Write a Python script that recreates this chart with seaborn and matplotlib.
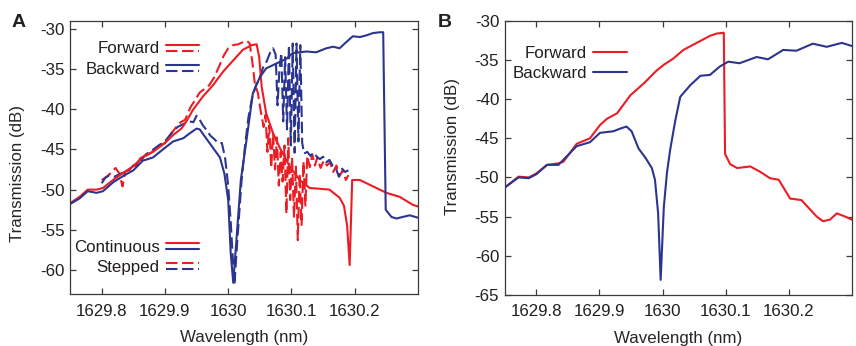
import numpy as np
import pandas as pd
import matplotlib
matplotlib.use("Agg")
import matplotlib.pyplot as plt
import seaborn as sns
from matplotlib.legend_handler import HandlerBase
from matplotlib.lines import Line2D

# ---------------- data: panel A ----------------
fc_x = [1629.750, 1629.765, 1629.778, 1629.792, 1629.802, 1629.818, 1629.834, 1629.850,
        1629.865, 1629.881, 1629.900, 1629.913, 1629.926, 1629.934, 1629.944, 1629.960,
        1629.976, 1629.992, 1630.008, 1630.023, 1630.037, 1630.045, 1630.049, 1630.053,
        1630.060, 1630.071, 1630.081, 1630.097, 1630.113, 1630.129, 1630.145, 1630.160,
        1630.176, 1630.183, 1630.188, 1630.192, 1630.196, 1630.208, 1630.229, 1630.250,
        1630.271, 1630.292, 1630.300]
fc_y = [-51.7, -50.9, -50.0, -50.0, -49.8, -48.8, -47.9, -47.1, -45.9, -45.3, -44.2, -43.2,
        -42.4, -41.5, -40.1, -38.4, -37.0, -35.3, -33.9, -32.6, -32.0, -31.9, -33.5, -37.2,
        -40.5, -43.0, -44.7, -47.1, -48.8, -49.8, -49.9, -50.0, -51.0, -52.0, -54.5, -59.4,
        -48.8, -48.8, -49.6, -50.4, -50.9, -51.9, -52.1]

bc_x = [1629.750, 1629.765, 1629.778, 1629.792, 1629.802, 1629.818, 1629.834, 1629.850,
        1629.865, 1629.881, 1629.900, 1629.913, 1629.929, 1629.939, 1629.950, 1629.955,
        1629.965, 1629.976, 1629.987, 1629.994, 1630.000, 1630.004, 1630.008, 1630.013,
        1630.020, 1630.029, 1630.039, 1630.050, 1630.060, 1630.076, 1630.092, 1630.102,
        1630.113, 1630.124, 1630.139, 1630.155, 1630.166, 1630.176, 1630.187, 1630.197,
        1630.208, 1630.218, 1630.229, 1630.240, 1630.245, 1630.249, 1630.258, 1630.266,
        1630.276, 1630.287, 1630.300]
bc_y = [-51.8, -51.1, -50.2, -50.4, -50.2, -49.1, -48.3, -47.6, -46.4, -46.0, -44.8, -44.0,
        -43.6, -43.0, -42.4, -42.5, -43.6, -44.8, -46.0, -48.0, -51.3, -57.9, -61.6, -56.3,
        -48.8, -43.8, -38.0, -36.0, -34.9, -34.3, -33.7, -33.0, -32.9, -32.8, -32.9, -32.4,
        -32.2, -32.4, -31.6, -30.9, -31.0, -30.8, -30.5, -30.4, -30.4, -52.5, -53.4, -53.6,
        -53.4, -53.2, -53.5]

sf_x = [1629.800, 1629.808, 1629.815, 1629.822, 1629.828, 1629.833, 1629.837, 1629.845,
        1629.855, 1629.862, 1629.870, 1629.880, 1629.890, 1629.900, 1629.910, 1629.918,
        1629.925, 1629.932, 1629.940, 1629.948, 1629.955, 1629.962, 1629.970, 1629.978,
        1629.986, 1629.993, 1630.000, 1630.008, 1630.016, 1630.024, 1630.030, 1630.034,
        1630.038, 1630.042, 1630.047, 1630.052, 1630.056, 1630.059, 1630.062, 1630.065,
        1630.068, 1630.071, 1630.074, 1630.077, 1630.080, 1630.083, 1630.086, 1630.089,
        1630.092, 1630.095, 1630.098, 1630.101, 1630.104, 1630.107, 1630.110, 1630.113,
        1630.116, 1630.119, 1630.122, 1630.125, 1630.129, 1630.133, 1630.137, 1630.141,
        1630.146, 1630.151, 1630.156, 1630.161, 1630.166, 1630.171, 1630.176, 1630.181,
        1630.186, 1630.190]
sf_y = [-48.8, -48.4, -47.9, -47.3, -48.0, -49.6, -47.8, -47.5, -47.0, -46.0, -45.8, -45.3,
        -44.6, -44.2, -43.0, -42.2, -41.6, -41.3, -39.8, -38.8, -37.9, -37.5, -37.0, -36.0,
        -34.6, -33.3, -32.4, -32.0, -31.9, -31.6, -31.5, -31.8, -34.0, -36.7, -38.0, -40.5,
        -42.2, -40.7, -45.3, -42.0, -47.3, -43.0, -47.5, -43.5, -49.5, -45.3, -49.0, -44.5,
        -53.0, -43.6, -51.3, -46.0, -53.5, -47.0, -56.3, -48.0, -54.4, -46.5, -52.0, -45.8,
        -47.2, -45.6, -47.0, -46.0, -47.3, -46.4, -47.0, -46.6, -47.8, -47.0, -48.3, -47.6,
        -48.8, -48.2]

sb_x = [1629.800, 1629.806, 1629.812, 1629.820, 1629.830, 1629.840, 1629.850, 1629.860,
        1629.870, 1629.880, 1629.890, 1629.900, 1629.910, 1629.920, 1629.930, 1629.938,
        1629.945, 1629.950, 1629.955, 1629.960, 1629.966, 1629.972, 1629.978, 1629.984,
        1629.990, 1629.995, 1630.000, 1630.004, 1630.008, 1630.010, 1630.013, 1630.017,
        1630.021, 1630.026, 1630.032, 1630.038, 1630.044, 1630.049, 1630.055, 1630.061,
        1630.066, 1630.071, 1630.075, 1630.078, 1630.081, 1630.084, 1630.087, 1630.090,
        1630.093, 1630.096, 1630.099, 1630.102, 1630.105, 1630.108, 1630.111, 1630.114,
        1630.117, 1630.120, 1630.125, 1630.130, 1630.135, 1630.140, 1630.145, 1630.150,
        1630.155, 1630.160, 1630.165, 1630.170, 1630.175, 1630.180, 1630.185, 1630.190]
sb_y = [-49.2, -48.5, -48.2, -48.4, -48.0, -47.8, -47.0, -46.6, -45.6, -45.1, -44.5, -44.0,
        -43.0, -42.2, -41.8, -41.5, -41.6, -40.8, -41.3, -42.0, -42.6, -43.3, -43.7, -44.2,
        -44.2, -46.0, -49.5, -54.0, -59.5, -61.8, -58.0, -53.5, -49.0, -45.0, -41.0, -38.5,
        -37.0, -36.3, -34.8, -34.0, -33.0, -32.4, -33.2, -39.5, -35.0, -33.0, -41.5, -33.5,
        -42.5, -32.0, -44.5, -31.8, -45.4, -31.8, -44.0, -32.0, -44.2, -45.5, -45.3, -45.8,
        -45.4, -45.9, -46.2, -45.9, -46.6, -46.3, -47.0, -47.3, -48.4, -47.4, -47.8, -47.6]

# ---------------- data: panel B ----------------
bf_x = [1629.750, 1629.772, 1629.788, 1629.800, 1629.817, 1629.835, 1629.843, 1629.864,
        1629.885, 1629.901, 1629.912, 1629.928, 1629.949, 1629.970, 1629.991, 1630.002,
        1630.017, 1630.033, 1630.054, 1630.075, 1630.086, 1630.097, 1630.099, 1630.107,
        1630.118, 1630.139, 1630.155, 1630.170, 1630.184, 1630.202, 1630.220, 1630.244,
        1630.254, 1630.265, 1630.276, 1630.289, 1630.300]
bf_y = [-51.3, -49.9, -50.0, -49.5, -48.4, -48.2, -48.0, -45.7, -45.0, -43.3, -42.5, -41.8,
        -39.5, -38.0, -36.3, -35.6, -34.8, -33.7, -32.8, -31.9, -31.6, -31.5, -47.0, -48.3,
        -48.8, -48.6, -49.3, -50.1, -50.3, -52.7, -52.9, -55.0, -55.6, -55.4, -54.6, -55.0,
        -55.4]

bb_x = [1629.750, 1629.772, 1629.788, 1629.800, 1629.817, 1629.835, 1629.864, 1629.885,
        1629.901, 1629.922, 1629.935, 1629.943, 1629.951, 1629.962, 1629.973, 1629.983,
        1629.988, 1629.993, 1629.997, 1630.002, 1630.007, 1630.012, 1630.020, 1630.028,
        1630.044, 1630.060, 1630.075, 1630.091, 1630.104, 1630.122, 1630.149, 1630.167,
        1630.191, 1630.212, 1630.238, 1630.260, 1630.284, 1630.300]
bb_y = [-51.3, -50.0, -50.1, -49.6, -48.4, -48.4, -46.0, -45.5, -44.3, -44.1, -43.7, -43.5,
        -44.1, -46.3, -47.5, -48.8, -50.3, -54.6, -63.1, -53.8, -49.4, -46.5, -42.8, -39.7,
        -38.2, -37.0, -36.9, -35.8, -35.2, -35.4, -34.6, -34.9, -33.7, -33.8, -32.9, -33.3,
        -32.8, -33.2]

x_ticks = [1629.8, 1629.9, 1630.0, 1630.1, 1630.2]
x_ticklabels = ["1629.8", "1629.9", "1630", "1630.1", "1630.2"]
yA_ticks = [-30, -35, -40, -45, -50, -55, -60]
yB_ticks = [-30, -35, -40, -45, -50, -55, -60, -65]

RED = "#ec1c24"
BLUE = "#2b3590"
TXT = "#231f20"
FS = 12.2

sns.set_style("ticks")
plt.rcParams["font.family"] = ["Liberation Sans", "DejaVu Sans"]
plt.rcParams["text.color"] = TXT

fig = plt.figure(figsize=(8.56, 3.46), dpi=100)
axA = fig.add_axes([0.0818, 0.1503, 0.4065, 0.789])
axB = fig.add_axes([0.5896, 0.1482, 0.4057, 0.7911])

LW = 1.5
DASH = (5.5, 2.2)


def draw(ax, x, y, color, dashed=False):
    df = pd.DataFrame({"x": x, "y": y})
    sns.lineplot(data=df, x="x", y="y", ax=ax, color=color, lw=LW,
                 estimator=None, sort=False, legend=False)
    if dashed:
        ax.lines[-1].set_dashes(DASH)


draw(axA, sf_x, sf_y, RED, dashed=True)
draw(axA, sb_x, sb_y, BLUE, dashed=True)
draw(axA, fc_x, fc_y, RED)
draw(axA, bc_x, bc_y, BLUE)

draw(axB, bf_x, bf_y, RED)
draw(axB, bb_x, bb_y, BLUE)


class Stack:
    def __init__(self, specs):
        self.specs = specs


class StackHandler(HandlerBase):
    def create_artists(self, legend, orig_handle, xdescent, ydescent, width, height,
                       fontsize, trans):
        arts = []
        n = len(orig_handle.specs)
        gap = 4.4
        yc = height / 2 - ydescent
        for i, (c, d) in enumerate(orig_handle.specs):
            yy = yc + gap * ((n - 1) / 2 - i)
            ln = Line2D([-xdescent, -xdescent + width], [yy, yy], color=c, lw=LW)
            if d:
                ln.set_dashes(DASH)
            ln.set_transform(trans)
            arts.append(ln)
        return arts


hm = {Stack: StackHandler()}
leg_kw = dict(frameon=False, markerfirst=False, handler_map=hm, fontsize=FS,
              handlelength=2.0, handletextpad=0.35, labelspacing=0.22, borderpad=0,
              borderaxespad=0, handleheight=1.0)

l1 = axA.legend([Stack([(RED, False), (RED, True)]), Stack([(BLUE, False), (BLUE, True)])],
                ["Forward", "Backward"], loc="upper right",
                bbox_to_anchor=(0.372, 0.93), **leg_kw)
axA.add_artist(l1)
axA.legend([Stack([(RED, False), (BLUE, False)]), Stack([(RED, True), (BLUE, True)])],
           ["Continuous", "Stepped"], loc="lower right",
           bbox_to_anchor=(0.372, 0.07), **leg_kw)

axB.legend([Stack([(RED, False)]), Stack([(BLUE, False)])], ["Forward", "Backward"],
           loc="upper right", bbox_to_anchor=(0.352, 0.915), **leg_kw)

for ax, yt, ylim in [(axA, yA_ticks, (-63, -29)), (axB, yB_ticks, (-65, -30))]:
    ax.set_xlim(1629.75, 1630.3)
    ax.set_ylim(*ylim)
    ax.set_xticks(x_ticks)
    ax.set_xticklabels(x_ticklabels)
    ax.set_yticks(yt)
    ax.set_yticklabels([str(v) for v in yt])
    ax.tick_params(direction="in", length=4, width=0.9, colors="#3a3a3a",
                   labelcolor=TXT, labelsize=FS, top=True, right=True)
    ax.tick_params(axis="x", pad=7)
    ax.tick_params(axis="y", pad=4)
    for s in ax.spines.values():
        s.set_visible(True)
        s.set_color("#3a3a3a")
        s.set_linewidth(0.9)
    ax.set_xlabel("Wavelength (nm)", fontsize=FS, labelpad=8)
    ax.set_ylabel("Transmission (dB)", fontsize=FS)

axA.yaxis.set_label_coords(-0.13, 0.443)
axB.yaxis.set_label_coords(-0.13, 0.543)

fig.text(0.014, 0.922, "A", fontsize=14, fontweight="bold", color=TXT)
fig.text(0.511, 0.922, "B", fontsize=14, fontweight="bold", color=TXT)

fig.savefig("out.png", dpi=100)
